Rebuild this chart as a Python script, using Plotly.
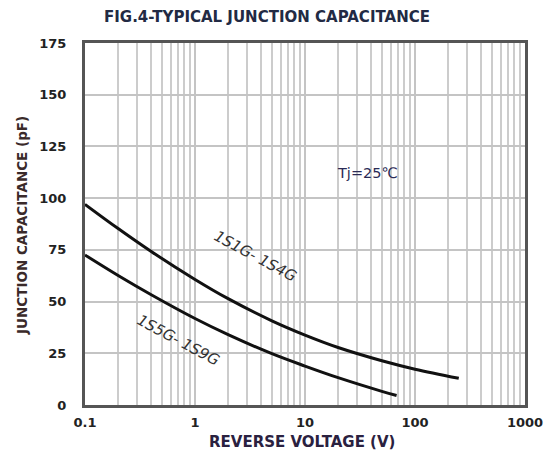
import plotly.graph_objects as go

# Data
v_upper = [0.1, 0.2, 0.4, 1, 2, 5, 10, 20, 50, 100, 250]
c_upper = [97, 85.3, 74.2, 60.7, 51.4, 40.7, 33.8, 27.8, 21.4, 17.3, 12.9]
v_lower = [0.1, 0.2, 0.4, 1, 2, 5, 10, 20, 50, 68]
c_lower = [72.5, 62.6, 53.3, 41.8, 34.0, 24.8, 18.8, 13.2, 6.6, 4.6]
x_tickvals = [0.1, 1, 10, 100, 1000]
x_ticktext = ["0.1", "1", "10", "100", "1000"]
y_tickvals = [0, 25, 50, 75, 100, 125, 150, 175]

W, H = 550, 452
L, R, T, B = 85, 525, 43, 405

def px(x):
    return (x - L) / (R - L)

def py(y):
    return (B - y) / (B - T)

fig = go.Figure()
fig.add_trace(go.Scatter(x=v_upper, y=c_upper, mode="lines",
                         line=dict(color="#111", width=3, shape="spline", smoothing=1.0),
                         showlegend=False, hoverinfo="skip"))
fig.add_trace(go.Scatter(x=v_lower, y=c_lower, mode="lines",
                         line=dict(color="#111", width=3, shape="spline", smoothing=1.0),
                         showlegend=False, hoverinfo="skip"))

tickfont = dict(family="DejaVu Sans", size=13, color="#222", weight="bold")
fig.update_xaxes(type="log", range=[-1, 3], tickvals=x_tickvals, ticktext=x_ticktext,
                 showgrid=True, gridcolor="#c4c4c4", gridwidth=2,
                 minor=dict(showgrid=True, dtick="D1", gridcolor="#cccccc", gridwidth=2, ticks=""),
                 showline=True, linecolor="#555", linewidth=3, mirror=True,
                 ticks="", tickfont=tickfont, zeroline=False, automargin=False,
                 ticklabelstandoff=3)
fig.update_yaxes(range=[0, 175], tickvals=y_tickvals,
                 showgrid=True, gridcolor="#c4c4c4", gridwidth=2,
                 showline=True, linecolor="#555", linewidth=3, mirror=True,
                 ticks="", tickfont=tickfont, zeroline=False, ticklabelstandoff=13,
                 automargin=False)

def note(x, y, text, size, color, family="DejaVu Sans", angle=0):
    fig.add_annotation(x=px(x), y=py(y), xref="paper", yref="paper",
                       xanchor="center", yanchor="middle",
                       text=text, showarrow=False, textangle=angle,
                       font=dict(family=family, size=size, color=color))

note(267, 17, "<b>FIG.4-TYPICAL JUNCTION CAPACITANCE</b>", 15, "#222a44")
note(302, 442, "<b>REVERSE VOLTAGE (V)</b>", 15, "#2a2140")
note(22, 226, "<b>JUNCTION CAPACITANCE (pF)</b>", 13.5, "#3a2a2a", angle=-90)
note(255, 256, "<i>1S1G- 1S4G</i>", 15, "#333", angle=28)
note(178, 340, "<i>1S5G- 1S9G</i>", 15, "#333", angle=28)
note(367, 173, "Tj=25℃", 14.5, "#2a2a55")

fig.update_layout(width=W, height=H, margin=dict(l=L, r=W - R, t=T, b=H - B),
                  paper_bgcolor="white", plot_bgcolor="white")
fig.write_html("out.html", config={"displayModeBar": False},
               post_script="document.body.style.margin='0';document.body.style.overflow='hidden';")
